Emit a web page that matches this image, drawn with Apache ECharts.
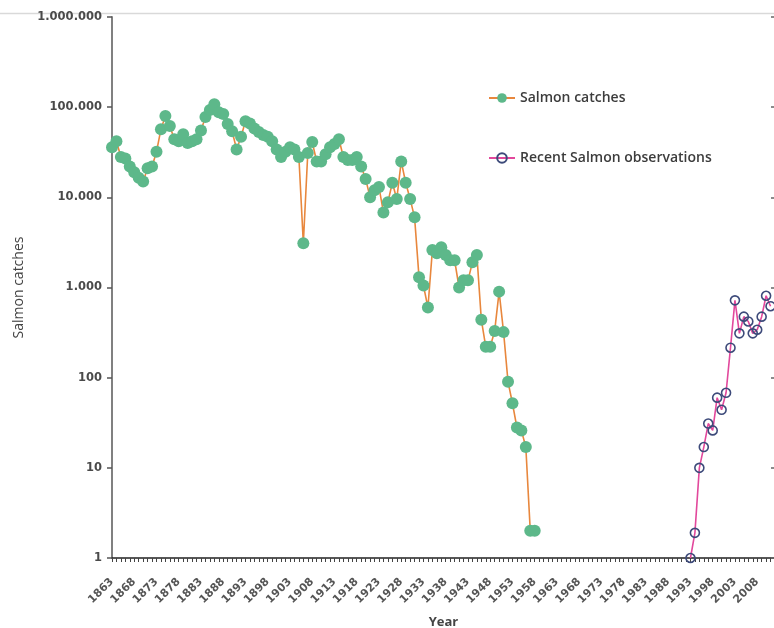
<!DOCTYPE html>
<html>
<head>
<meta charset="utf-8">
<script src="https://cdn.jsdelivr.net/npm/echarts@6/dist/echarts.min.js"></script>
<style>
  html, body { margin: 0; padding: 0; background: #fff; }
  #chart { width: 774px; height: 628px; }
</style>
</head>
<body>
<div id="chart"></div>
<script>
// Axis range of the year axis
const firstYear = 1863;
const lastYear = 2012;

// Annual salmon catches, one value per year from 1863
const catchStartYear = 1863;
const salmonCatches = [
  36000, 42000, 28000, 27000, 22000, 19000, 16500, 15000, 21000, 22000,   // 1863-1872
  32000, 57000, 80000, 62000, 44000, 42000, 50000, 40000, 42000, 44000,   // 1873-1882
  55000, 78000, 93000, 108000, 88000, 84000, 65000, 54000, 34000, 47000,  // 1883-1892
  70000, 66000, 58000, 53000, 49000, 47000, 42000, 34000, 28000, 32000,   // 1893-1902
  36000, 34000, 28000, 3100, 31000, 41000, 25000, 25000, 30000, 36000,    // 1903-1912
  39000, 44000, 28000, 26000, 26000, 28000, 22000, 16000, 10000, 12000,   // 1913-1922
  13000, 6800, 8800, 14500, 9600, 25000, 14500, 9600, 6000, 1300,         // 1923-1932
  1050, 600, 2600, 2400, 2800, 2300, 2000, 2000, 1000, 1200,              // 1933-1942
  1200, 1900, 2300, 440, 220, 220, 330, 900, 320, 90,                     // 1943-1952
  52, 28, 26, 17, 2, 2                                                    // 1953-1958
];

// Recent salmon observations, one value per year from 1993
const obsStartYear = 1993;
const recentObservations = [
  1, 1.9, 10, 17, 31, 26, 60, 44, 68, 215,   // 1993-2002
  720, 310, 475, 420, 310, 340, 475, 810, 620 // 2003-2011
];

// Tick labels of the logarithmic value axis, one per decade
const yTickLabels = ['1', '10', '100', '1.000', '10.000', '100.000', '1.000.000'];

const years = [];
for (let y = firstYear; y <= lastYear; y++) years.push(String(y));

function alignToYears(values, startYear) {
  return years.map(function (y) {
    const k = Number(y) - startYear;
    return (k >= 0 && k < values.length) ? values[k] : null;
  });
}

const catchData = alignToYears(salmonCatches, catchStartYear);
const obsData = alignToYears(recentObservations, obsStartYear);

const chart = echarts.init(document.getElementById('chart'), null, { renderer: 'canvas' });

chart.setOption({
  backgroundColor: '#ffffff',
  animation: false,
  textStyle: { fontFamily: 'DejaVu Sans' },
  graphic: [
    {
      type: 'line',
      shape: { x1: 0, y1: 13.5, x2: 774, y2: 13.5 },
      style: { stroke: '#d9d9d9', lineWidth: 1.5 },
      silent: true
    }
  ],
  legend: {
    orient: 'vertical',
    left: 483,
    top: 86,
    itemGap: 46,
    itemWidth: 26,
    itemHeight: 12,
    textStyle: {
      fontFamily: 'Open Sans',
      fontSize: 14,
      fontWeight: 600,
      color: '#3c3c3c'
    },
    data: ['Salmon catches', 'Recent Salmon observations']
  },
  grid: {
    left: 112,
    right: -1,
    top: 17,
    bottom: 70,
    containLabel: false,
    outerBoundsMode: 'none'
  },
  xAxis: {
    type: 'category',
    data: years,
    boundaryGap: false,
    name: 'Year',
    nameLocation: 'middle',
    nameGap: 58,
    nameTextStyle: {
      fontFamily: 'Open Sans',
      fontSize: 13,
      fontWeight: 700,
      color: '#444444'
    },
    axisLine: { lineStyle: { color: '#222222', width: 1.5 } },
    axisTick: {
      show: true,
      interval: 0,
      length: 4,
      lineStyle: { color: '#444444', width: 1 }
    },
    axisLabel: {
      interval: 4,
      rotate: 45,
      margin: 22,
      fontFamily: 'DejaVu Sans',
      fontSize: 11,
      fontWeight: 'bold',
      color: '#555555'
    },
    splitLine: { show: false }
  },
  yAxis: [
    {
      type: 'log',
      logBase: 10,
      min: 1,
      max: 1000000,
      name: 'Salmon catches',
      nameLocation: 'middle',
      nameGap: 82,
      nameRotate: 90,
      nameTextStyle: {
        fontFamily: 'Open Sans',
        fontSize: 14,
        color: '#444444'
      },
      axisLine: { show: true, lineStyle: { color: '#808080', width: 2 } },
      axisTick: { show: true, length: 5, lineStyle: { color: '#555555', width: 1.5 } },
      axisLabel: {
        margin: 10,
        fontFamily: 'DejaVu Sans',
        fontSize: 11.5,
        fontWeight: 'bold',
        color: '#4a4a4a',
        formatter: function (v) {
          return yTickLabels[Math.round(Math.log10(v))];
        }
      },
      splitLine: { show: false }
    },
    {
      type: 'log',
      logBase: 10,
      min: 1,
      max: 1000000,
      position: 'right',
      axisLine: { show: false },
      axisTick: { show: true, inside: true, length: 4, lineStyle: { color: '#666666', width: 1.5 } },
      axisLabel: { show: false },
      splitLine: { show: false }
    }
  ],
  series: [
    {
      name: 'Salmon catches',
      type: 'line',
      yAxisIndex: 0,
      data: catchData,
      connectNulls: false,
      showAllSymbol: true,
      symbol: 'circle',
      symbolSize: 12,
      itemStyle: { color: '#5db88a' },
      lineStyle: { color: '#e8873d', width: 1.6 },
      z: 3
    },
    {
      name: 'Recent Salmon observations',
      type: 'line',
      yAxisIndex: 0,
      data: obsData,
      connectNulls: false,
      showAllSymbol: true,
      symbol: 'circle',
      symbolSize: 9,
      itemStyle: { color: 'rgba(255,255,255,0)', borderColor: '#3d4a7a', borderWidth: 1.6 },
      lineStyle: { color: '#e2489c', width: 1.6 },
      z: 4
    }
  ]
});
</script>
</body>
</html>
